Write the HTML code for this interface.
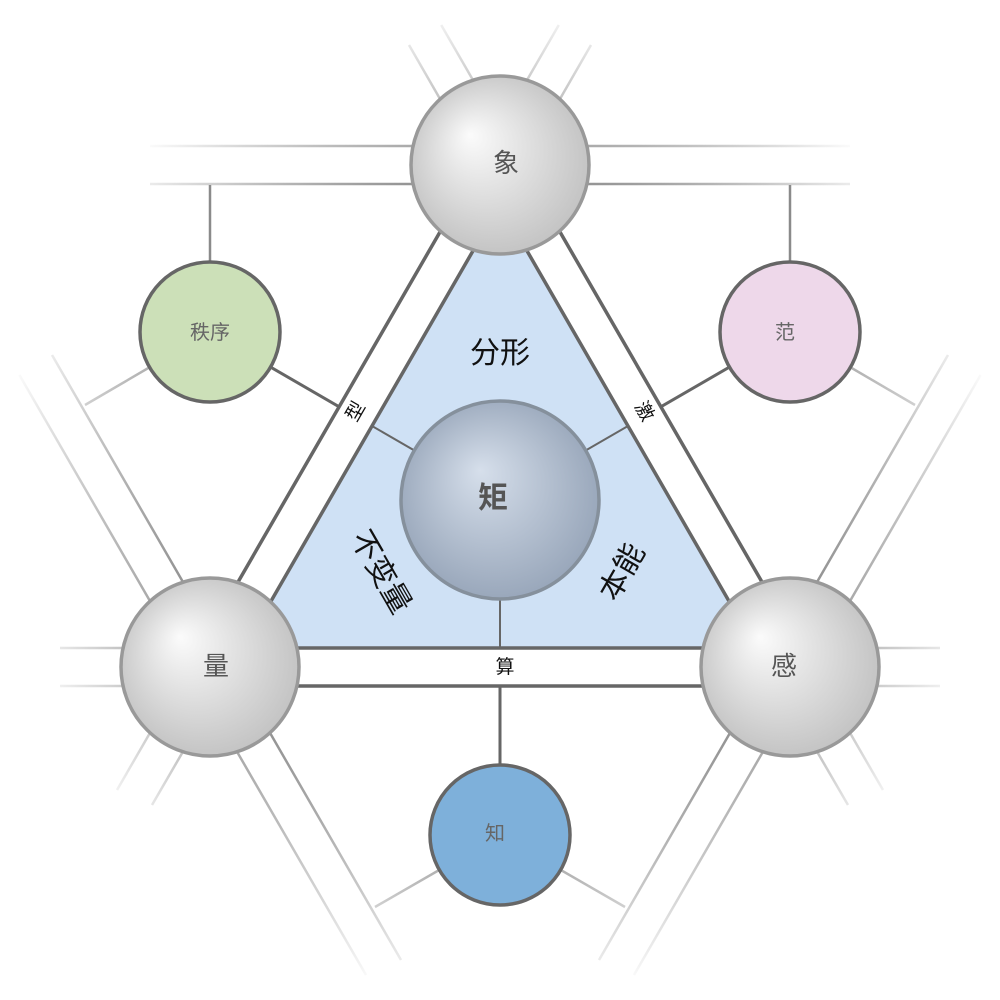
<!DOCTYPE html>
<html><head><meta charset="utf-8"><style>
html,body{margin:0;padding:0;background:#fff;}
svg{display:block;font-family:"Liberation Sans","Noto Sans CJK SC",sans-serif;}
</style></head><body>
<svg width="1000" height="1000" viewBox="0 0 1000 1000" xmlns="http://www.w3.org/2000/svg">
<defs>
<radialGradient id="fade" cx="500" cy="500" r="510" gradientUnits="userSpaceOnUse">
<stop offset="0.6" stop-color="#fff"/><stop offset="0.99" stop-color="#000"/>
</radialGradient>
<mask id="m"><rect width="1000" height="1000" fill="url(#fade)"/></mask>
<radialGradient id="big" cx="0.5" cy="0.5" fx="0.33" fy="0.33" r="0.6">
<stop offset="0" stop-color="#fbfbfb"/><stop offset="1" stop-color="#bcbcbc"/>
</radialGradient>
<radialGradient id="ctr" cx="0.5" cy="0.5" fx="0.4" fy="0.35" r="0.62">
<stop offset="0" stop-color="#d6dfeb"/><stop offset="1" stop-color="#8e9db2"/>
</radialGradient>
</defs>

<g mask="url(#m)" stroke="#888" stroke-width="2.5" fill="none">
<line x1="150" y1="146" x2="850" y2="146"/>
<line x1="150" y1="184" x2="850" y2="184"/>
<line x1="483.5" y1="155.5" x2="558.8" y2="25"/>
<line x1="516.5" y1="174.5" x2="591" y2="45"/>
<line x1="516.5" y1="155.5" x2="441.2" y2="25"/>
<line x1="483.5" y1="174.5" x2="409" y2="45"/>
<line x1="193.5" y1="657.5" x2="117" y2="790"/>
<line x1="226.5" y1="676.5" x2="152" y2="805"/>
<line x1="19.4" y1="375" x2="366" y2="975"/>
<line x1="52" y1="355" x2="401" y2="960"/>
<line x1="60" y1="648" x2="210" y2="648"/>
<line x1="60" y1="686" x2="210" y2="686"/>
<line x1="806.5" y1="657.5" x2="883" y2="790"/>
<line x1="773.5" y1="676.5" x2="848" y2="805"/>
<line x1="980.6" y1="375" x2="634" y2="975"/>
<line x1="948" y1="355" x2="599" y2="960"/>
<line x1="790" y1="648" x2="940" y2="648"/>
<line x1="790" y1="686" x2="940" y2="686"/>
<line x1="210" y1="332" x2="85" y2="405"/>
<line x1="790" y1="332" x2="915" y2="405"/>
<line x1="500" y1="835" x2="375" y2="907"/>
<line x1="500" y1="835" x2="625" y2="907"/>
</g>
<g stroke="#8a8a8a" stroke-width="2.5">
<line x1="210" y1="332" x2="210" y2="185"/>
<line x1="790" y1="332" x2="790" y2="185"/>
</g>

<g stroke="#666" stroke-width="3">
<line x1="500" y1="500" x2="210" y2="332"/>
<line x1="500" y1="500" x2="790" y2="332"/>
<line x1="500" y1="500" x2="500" y2="835"/>
</g>

<polygon points="500,128 178,686 822,686" fill="#fff" stroke="#666" stroke-width="3.5"/>
<polygon points="500,204 244,648 756,648" fill="#cfe1f5" stroke="#666" stroke-width="3.5"/>
<g stroke="#666" stroke-width="2">
<line x1="500" y1="500" x2="372" y2="426"/>
<line x1="500" y1="500" x2="628" y2="426"/>
<line x1="500" y1="500" x2="500" y2="648"/>
</g>

<g font-size="19" fill="#111" text-anchor="middle">
<text transform="translate(355,411) rotate(-60)" dy="7">型</text>
<text transform="translate(645,411) rotate(60)" dy="7">激</text>
<text x="505" y="673">算</text>
</g>

<g font-size="30" fill="#111" text-anchor="middle">
<text x="500" y="363">分形</text>
<text transform="translate(381,572) rotate(60)" dy="10">不变量</text>
<text transform="translate(622,572) rotate(-60)" dy="10">本能</text>
</g>

<g stroke="#666" stroke-width="3.5">
<circle cx="210" cy="332" r="70" fill="#cce0b8"/>
<circle cx="790" cy="332" r="70" fill="#eed8ea"/>
<circle cx="500" cy="835" r="70" fill="#7eb0da"/>
</g>
<g font-size="20" fill="#666" text-anchor="middle">
<text x="210" y="339">秩序</text>
<text x="785" y="339">范</text>
<text x="495" y="840">知</text>
</g>

<g stroke="#999" stroke-width="3.5" fill="url(#big)">
<circle cx="500" cy="165" r="89"/>
<circle cx="210" cy="667" r="89"/>
<circle cx="790" cy="667" r="89"/>
</g>
<circle cx="500" cy="500" r="99" fill="url(#ctr)" stroke="#85909c" stroke-width="3.5"/>
<g font-size="26" fill="#555" text-anchor="middle">
<text x="506" y="172">象</text>
<text x="216" y="675">量</text>
<text x="784" y="675">感</text>
<text x="493" y="508" font-size="30" font-weight="bold">矩</text>
</g>
</svg>
</body></html>
